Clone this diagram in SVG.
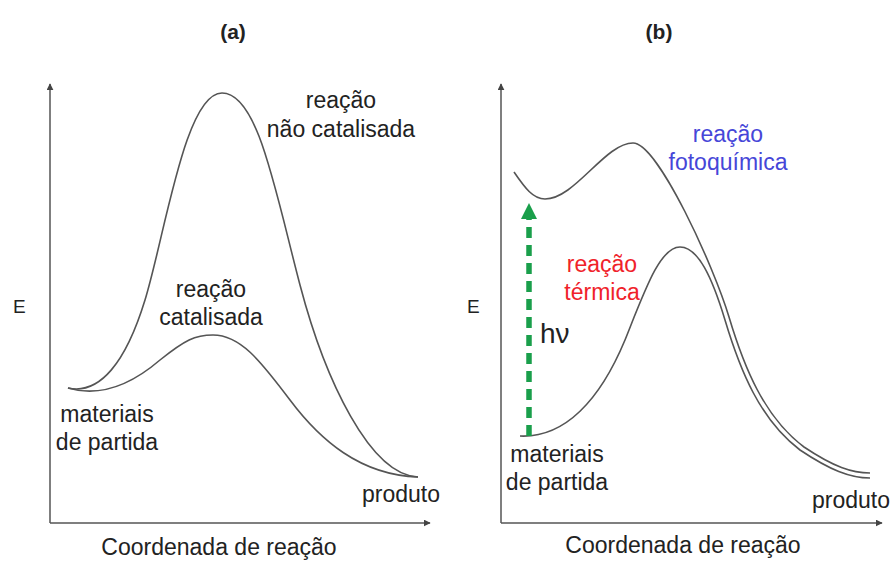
<svg xmlns="http://www.w3.org/2000/svg" width="892" height="561" viewBox="0 0 892 561">
<style>
text{font-family:"Liberation Sans",Arial,sans-serif;fill:#222}
.lbl{font-size:23px;text-anchor:middle}
.axis{stroke:#555;stroke-width:1.5;fill:none}
.curve{stroke:#555;stroke-width:1.6;fill:none}
.ttl{font-size:21px;font-weight:bold;text-anchor:middle}
.e{font-size:19px}
</style>
<defs>
<marker id="ah" viewBox="0 0 10 10" refX="9" refY="5" markerWidth="7" markerHeight="7" markerUnits="userSpaceOnUse" orient="auto">
<path d="M0,0 L10,5 L0,10 z" fill="#444"/>
</marker>
</defs>
<rect width="892" height="561" fill="#fff"/>
<text class="ttl" x="233" y="39">(a)</text>
<text class="ttl" x="659" y="39">(b)</text>

<g id="panel-a-axes">
<path class="axis" d="M50,523 L50,84" marker-end="url(#ah)"/>
<path class="axis" d="M50,523 L430,523" marker-end="url(#ah)"/>
<text class="e" x="13" y="313">E</text>
<text class="lbl" x="219" y="555">Coordenada de reação</text>
</g>
<g id="connectors-a">
<path id="uncatalysed" class="curve" d="M68,388 C100,395 126,362 145,300 C165,235 185,93 222,93 C258,93 275,190 300,285 C325,380 370,475 418,477"/>
<path id="catalysed" class="curve" d="M68,388 C95,396 125,390 160,360 C185,340 195,335 213,335 C240,335 260,360 290,400 C320,440 360,475 418,477"/>
</g>
<g id="label-nao-cat">
<text class="lbl" x="341" y="108">reação</text>
<text class="lbl" x="341" y="137">não catalisada</text>
</g>
<g id="label-cat">
<text class="lbl" x="211" y="297">reação</text>
<text class="lbl" x="211" y="325">catalisada</text>
</g>
<g id="label-mat-a">
<text class="lbl" x="107" y="422">materiais</text>
<text class="lbl" x="107" y="450">de partida</text>
</g>
<g id="label-prod-a">
<text class="lbl" x="401" y="502">produto</text>
</g>

<g id="panel-b-axes">
<path class="axis" d="M501,523 L501,84" marker-end="url(#ah)"/>
<path class="axis" d="M501,523 L882,523" marker-end="url(#ah)"/>
<text class="e" x="467" y="313">E</text>
<text class="lbl" x="683" y="553">Coordenada de reação</text>
</g>
<g id="connectors-b">
<path id="photochemical" class="curve" d="M514,172 C525,188 533,199 545,199 C575,199 605,143 633,143 C658,143 714,267 729,317 C744,367 764,417 804,447 C834,467 852,473 870,473"/>
<path id="thermal" class="curve" d="M520,436 C565,438 600,400 625,340 C645,290 660,247 680,247 C698,247 712,277 725,320 C740,370 760,420 800,450 C830,470 850,478 870,478"/>
<g id="hv-arrow">
<line x1="529" y1="436" x2="529" y2="219" stroke="#1a9f4b" stroke-width="5.5" stroke-dasharray="11,7"/>
<path d="M521,219 L529,203 L537,219 z" fill="#1a9f4b"/>
</g>
</g>
<g id="label-hv">
<text x="540" y="343" font-size="28">hν</text>
</g>
<g id="label-foto">
<text class="lbl" x="728" y="142" style="fill:#4646d8">reação</text>
<text class="lbl" x="728" y="170" style="fill:#4646d8">fotoquímica</text>
</g>
<g id="label-term">
<text class="lbl" x="602" y="272" style="fill:#f0222a">reação</text>
<text class="lbl" x="602" y="300" style="fill:#f0222a">térmica</text>
</g>
<g id="label-mat-b">
<text class="lbl" x="557" y="462">materiais</text>
<text class="lbl" x="557" y="490">de partida</text>
</g>
<g id="label-prod-b">
<text class="lbl" x="851" y="508">produto</text>
</g>
</svg>
